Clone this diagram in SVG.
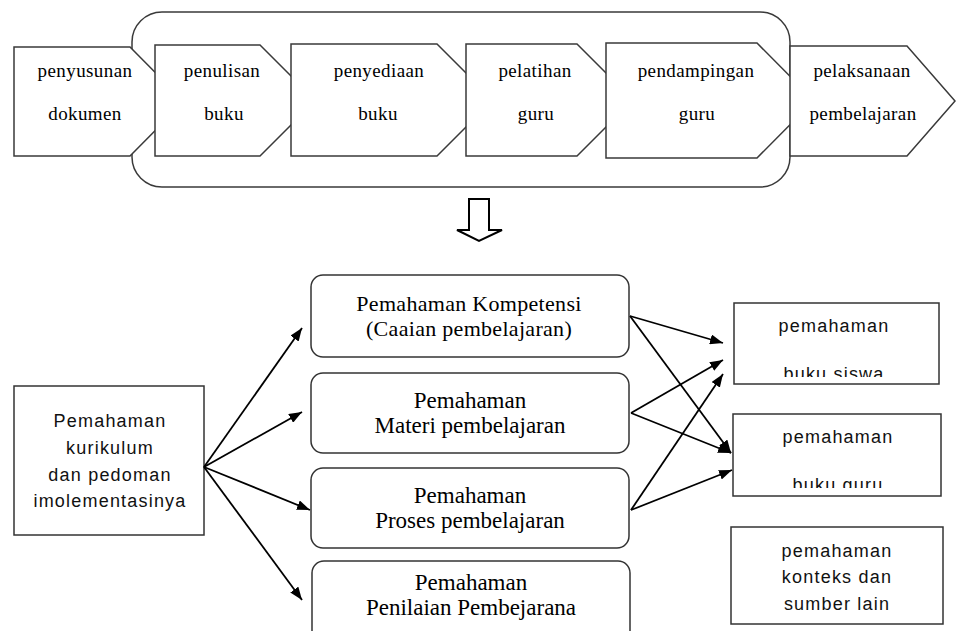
<svg xmlns="http://www.w3.org/2000/svg" width="956" height="631" viewBox="0 0 956 631">
<style>
.stage{fill:#fff;stroke:#3a3a3a;stroke-width:1.5}
.box{fill:#fff;stroke:#333;stroke-width:1.5}
.serif{font-family:"Liberation Serif","Times New Roman",serif;fill:#000;text-anchor:middle}
.t1{font-size:19px;letter-spacing:0.4px}
.t2{font-size:23px}
.t3{font-size:22px;letter-spacing:0.3px}
.sans{font-family:"Liberation Sans",Arial,sans-serif;font-size:18px;letter-spacing:1.2px;fill:#111;text-anchor:middle}
.edge{stroke:#000;stroke-width:1.8;fill:none;marker-end:url(#ah)}
</style>
<defs>
<marker id="ah" markerUnits="userSpaceOnUse" markerWidth="14" markerHeight="10" refX="13" refY="5" orient="auto">
<path d="M0,0 L13,5 L0,10 z" fill="#000"/>
</marker>
<clipPath id="clipA"><rect x="734" y="303" width="205" height="74"/></clipPath>
<clipPath id="clipB"><rect x="733" y="414" width="208" height="74"/></clipPath>
</defs>
<rect width="956" height="631" fill="#fff"/>

<g id="container"><rect x="132" y="12" width="658" height="175" rx="30" fill="none" stroke="#3a3a3a" stroke-width="1.5"/></g>

<g id="penyusunan">
<polygon class="stage" points="14,47 130,47 184,101.5 130,156 14,156"/>
<text class="serif t1" x="85" y="77">penyusunan</text>
<text class="serif t1" x="85" y="120">dokumen</text>
</g>
<g id="penulisan">
<polygon class="stage" points="155,45 260,45 315.5,100.5 260,156 155,156"/>
<text class="serif t1" x="222" y="77">penulisan</text>
<text class="serif t1" x="224" y="120">buku</text>
</g>
<g id="penyediaan">
<polygon class="stage" points="291,44 437,44 493,100 437,156 291,156"/>
<text class="serif t1" x="379" y="77">penyediaan</text>
<text class="serif t1" x="378" y="120">buku</text>
</g>
<g id="pelatihan">
<polygon class="stage" points="466,44 577,44 633,100 577,156 466,156"/>
<text class="serif t1" x="535" y="77">pelatihan</text>
<text class="serif t1" x="536" y="120">guru</text>
</g>
<g id="pendampingan">
<polygon class="stage" points="606,43 757,43 814,100.5 757,158 606,158"/>
<text class="serif t1" x="696" y="77">pendampingan</text>
<text class="serif t1" x="697" y="120">guru</text>
</g>
<g id="pelaksanaan">
<polygon class="stage" points="790,46 907,46 955,101 907,156 790,156"/>
<text class="serif t1" x="862" y="77">pelaksanaan</text>
<text class="serif t1" x="863" y="120">pembelajaran</text>
</g>

<g id="down-arrow">
<polygon points="469,199 489,199 489,230 502,230 479,241 457,230 469,230" fill="#fff" stroke="#000" stroke-width="2" stroke-linejoin="miter"/>
</g>

<g id="kurikulum">
<rect class="box" x="14" y="386" width="190" height="149"/>
<text class="sans" x="110" y="427">Pemahaman</text>
<text class="sans" x="110" y="454">kurikulum</text>
<text class="sans" x="110" y="481">dan pedoman</text>
<text class="sans" x="110" y="507">imolementasinya</text>
</g>

<g id="kompetensi">
<rect class="box" x="311" y="275" width="318" height="82" rx="12"/>
<text class="serif t3" x="469" y="311">Pemahaman Kompetensi</text>
<text class="serif t3" x="469" y="336">(Caaian pembelajaran)</text>
</g>
<g id="materi">
<rect class="box" x="311" y="373" width="318" height="80" rx="12"/>
<text class="serif t2" x="470" y="408">Pemahaman</text>
<text class="serif t2" x="470" y="433">Materi pembelajaran</text>
</g>
<g id="proses">
<rect class="box" x="311" y="468" width="318" height="80" rx="12"/>
<text class="serif t2" x="470" y="503">Pemahaman</text>
<text class="serif t2" x="470" y="528">Proses pembelajaran</text>
</g>
<g id="penilaian">
<rect class="box" x="312" y="561" width="318" height="90" rx="12"/>
<text class="serif t2" x="471" y="590">Pemahaman</text>
<text class="serif t2" x="471" y="615">Penilaian Pembejarana</text>
</g>

<g id="buku-siswa">
<rect class="box" x="734" y="303" width="205" height="81"/>
<text class="sans" x="834" y="332">pemahaman</text>
<text class="sans" x="834" y="380" clip-path="url(#clipA)">buku siswa</text>
</g>
<g id="buku-guru">
<rect class="box" x="733" y="414" width="208" height="82"/>
<text class="sans" x="838" y="443">pemahaman</text>
<text class="sans" x="838" y="491" clip-path="url(#clipB)">buku guru</text>
</g>
<g id="konteks">
<rect class="box" x="731" y="527" width="212" height="97"/>
<text class="sans" x="837" y="557">pemahaman</text>
<text class="sans" x="837" y="583">konteks dan</text>
<text class="sans" x="837" y="610">sumber lain</text>
</g>

<g id="connectors">
<line class="edge" x1="204" y1="467" x2="302" y2="328"/>
<line class="edge" x1="204" y1="467" x2="302" y2="412"/>
<line class="edge" x1="204" y1="467" x2="310" y2="510"/>
<line class="edge" x1="204" y1="467" x2="302" y2="600"/>
<line class="edge" x1="630" y1="316" x2="723" y2="343"/>
<line class="edge" x1="630" y1="316" x2="731" y2="453"/>
<line class="edge" x1="631" y1="413" x2="723" y2="360"/>
<line class="edge" x1="631" y1="413" x2="731" y2="453"/>
<line class="edge" x1="631" y1="510" x2="723" y2="374"/>
<line class="edge" x1="631" y1="510" x2="732" y2="470"/>
</g>
</svg>
